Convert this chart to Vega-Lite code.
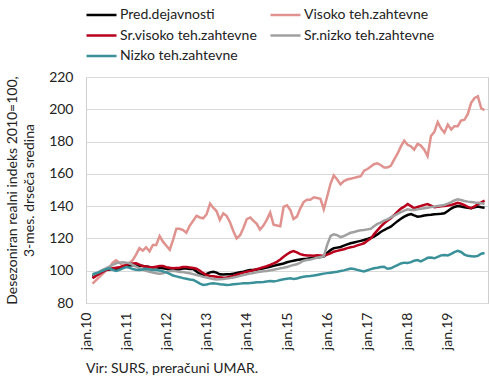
{
  "$schema": "https://vega.github.io/schema/vega-lite/v6.json",
  "width": 402,
  "height": 226,
  "autosize": "none",
  "padding": {"left": 86, "top": 77, "right": 2, "bottom": 78},
  "config": {
    "font": "Lato",
    "view": {"stroke": "#cfcfcf", "strokeWidth": 1}
  },
  "title": {"text": "Vir: SURS, preračuni UMAR.", "orient": "bottom", "anchor": "start", "frame": "group", "fontSize": 14, "fontWeight": "normal", "color": "#222222", "offset": 12, "font": "Lato"},
  "data": {"values": [
    {"t":"2010-03","a":96.3,"b":92,"c":95.3,"d":97.3,"e":97.8},
    {"t":"2010-04","a":97.5,"b":94,"c":96.8,"d":98.3,"e":98.4},
    {"t":"2010-05","a":98.5,"b":96,"c":98,"d":99.5,"e":99},
    {"t":"2010-06","a":99.5,"b":98,"c":99.3,"d":100.5,"e":100},
    {"t":"2010-07","a":100.4,"b":100,"c":100.4,"d":101.5,"e":100.8},
    {"t":"2010-08","a":100.8,"b":102,"c":101,"d":102.5,"e":101.5},
    {"t":"2010-09","a":101.2,"b":105,"c":101.5,"d":103.6,"e":100.5},
    {"t":"2010-10","a":101.2,"b":106.5,"c":101.8,"d":104.6,"e":99.8},
    {"t":"2010-11","a":101.5,"b":105,"c":102.1,"d":105,"e":100.5},
    {"t":"2010-12","a":102.2,"b":103,"c":102.8,"d":105.2,"e":101.5},
    {"t":"2011-01","a":102.8,"b":104,"c":103.5,"d":105,"e":102.3},
    {"t":"2011-02","a":103.3,"b":105,"c":104.2,"d":104.6,"e":101.8},
    {"t":"2011-03","a":103.5,"b":106.5,"c":104.5,"d":103.6,"e":101},
    {"t":"2011-04","a":103.2,"b":110,"c":104.6,"d":102.5,"e":100.6},
    {"t":"2011-05","a":103,"b":114,"c":103.8,"d":101.5,"e":100.4},
    {"t":"2011-06","a":102.9,"b":112.5,"c":102.9,"d":100.7,"e":100.8},
    {"t":"2011-07","a":102.6,"b":114.5,"c":102.6,"d":100,"e":101.2},
    {"t":"2011-08","a":102.3,"b":112,"c":102.3,"d":99.4,"e":100.8},
    {"t":"2011-09","a":102.1,"b":116,"c":102.1,"d":98.8,"e":100.5},
    {"t":"2011-10","a":102.2,"b":116,"c":102.5,"d":98.4,"e":100.4},
    {"t":"2011-11","a":101.8,"b":121.5,"c":102.9,"d":98.2,"e":100.2},
    {"t":"2011-12","a":101.5,"b":118,"c":102.9,"d":98.4,"e":99.6},
    {"t":"2012-01","a":101.2,"b":115.5,"c":102.2,"d":99.2,"e":99},
    {"t":"2012-02","a":100.8,"b":113,"c":101.8,"d":99.8,"e":98},
    {"t":"2012-03","a":100.4,"b":119,"c":101.5,"d":100,"e":97},
    {"t":"2012-04","a":100.7,"b":126,"c":101.7,"d":99.6,"e":96.5},
    {"t":"2012-05","a":100.9,"b":126,"c":101.9,"d":99.2,"e":96},
    {"t":"2012-06","a":101.4,"b":125.2,"c":102.3,"d":99.2,"e":95.4},
    {"t":"2012-07","a":101.3,"b":123.5,"c":102.3,"d":98.8,"e":95},
    {"t":"2012-08","a":101,"b":128,"c":102,"d":98.4,"e":94.6},
    {"t":"2012-09","a":101,"b":131,"c":101.7,"d":97.9,"e":94.3},
    {"t":"2012-10","a":99.5,"b":134,"c":101.2,"d":97.4,"e":93.2},
    {"t":"2012-11","a":98,"b":133,"c":100,"d":96.9,"e":92},
    {"t":"2012-12","a":97.3,"b":132.5,"c":98.5,"d":96.3,"e":91.2},
    {"t":"2013-01","a":98,"b":135,"c":97.3,"d":95.8,"e":91.5},
    {"t":"2013-02","a":99,"b":141.5,"c":96.7,"d":95.3,"e":92},
    {"t":"2013-03","a":99.4,"b":139,"c":96.5,"d":94.9,"e":92.2},
    {"t":"2013-04","a":98.8,"b":137,"c":96.3,"d":94.6,"e":92},
    {"t":"2013-05","a":97.8,"b":131.5,"c":96,"d":94.7,"e":91.6},
    {"t":"2013-06","a":97.6,"b":135.5,"c":95.7,"d":94.8,"e":91.4},
    {"t":"2013-07","a":97.8,"b":134,"c":95.8,"d":95.1,"e":91.2},
    {"t":"2013-08","a":97.8,"b":130,"c":96.3,"d":95.4,"e":91.3},
    {"t":"2013-09","a":98.2,"b":124.5,"c":96.8,"d":95.8,"e":91.6},
    {"t":"2013-10","a":98.6,"b":120,"c":97.5,"d":96.2,"e":91.8},
    {"t":"2013-11","a":99,"b":122,"c":98.2,"d":96.8,"e":92},
    {"t":"2013-12","a":99.4,"b":126.5,"c":98.8,"d":97.3,"e":92.2},
    {"t":"2014-01","a":100,"b":132,"c":99.4,"d":97.8,"e":92.3},
    {"t":"2014-02","a":100.4,"b":133,"c":99.8,"d":98.2,"e":92.4},
    {"t":"2014-03","a":100.5,"b":131,"c":100.3,"d":98.6,"e":92.6},
    {"t":"2014-04","a":100.8,"b":129,"c":100.9,"d":99,"e":92.8},
    {"t":"2014-05","a":101,"b":125.5,"c":101.5,"d":99.3,"e":92.9},
    {"t":"2014-06","a":101.5,"b":128,"c":102.2,"d":99.6,"e":93},
    {"t":"2014-07","a":102,"b":131.5,"c":102.8,"d":99.8,"e":93.3},
    {"t":"2014-08","a":102.5,"b":136,"c":103.6,"d":100.2,"e":93.6},
    {"t":"2014-09","a":103,"b":128.5,"c":104.5,"d":100.6,"e":93.4},
    {"t":"2014-10","a":103.5,"b":128,"c":105.5,"d":101,"e":93.7},
    {"t":"2014-11","a":104,"b":127.5,"c":107,"d":101.5,"e":94.2},
    {"t":"2014-12","a":104.5,"b":139.5,"c":108.7,"d":101.8,"e":94.7},
    {"t":"2015-01","a":105.2,"b":140.5,"c":110.2,"d":102.3,"e":95},
    {"t":"2015-02","a":105.8,"b":137.5,"c":111.5,"d":103,"e":95.3},
    {"t":"2015-03","a":106.2,"b":132,"c":112.2,"d":103.5,"e":94.9},
    {"t":"2015-04","a":106.6,"b":133.5,"c":111.3,"d":104,"e":95.2},
    {"t":"2015-05","a":106.9,"b":138.5,"c":110.3,"d":105,"e":95.8},
    {"t":"2015-06","a":107.2,"b":142.5,"c":109.7,"d":106.2,"e":96.2},
    {"t":"2015-07","a":107.4,"b":144,"c":109.5,"d":106.6,"e":96.5},
    {"t":"2015-08","a":107.7,"b":144,"c":109.4,"d":107,"e":96.7},
    {"t":"2015-09","a":108,"b":145.5,"c":109.3,"d":107.5,"e":97},
    {"t":"2015-10","a":108.2,"b":145,"c":109.6,"d":108,"e":97.4},
    {"t":"2015-11","a":108.5,"b":144.5,"c":109.5,"d":108.5,"e":97.8},
    {"t":"2015-12","a":108.7,"b":138,"c":109.1,"d":108.9,"e":98.2},
    {"t":"2016-01","a":111,"b":146,"c":110,"d":116,"e":98.5},
    {"t":"2016-02","a":112.8,"b":154,"c":110.8,"d":121.5,"e":98.8},
    {"t":"2016-03","a":113.9,"b":159,"c":111.8,"d":122.5,"e":99.1},
    {"t":"2016-04","a":114.3,"b":156.5,"c":112.3,"d":122,"e":99.4},
    {"t":"2016-05","a":114.7,"b":153.5,"c":112.8,"d":120.8,"e":99.8},
    {"t":"2016-06","a":115.5,"b":155.5,"c":113.3,"d":121.5,"e":100.2},
    {"t":"2016-07","a":116.3,"b":156.5,"c":114,"d":122.5,"e":100.8},
    {"t":"2016-08","a":117,"b":157,"c":114.5,"d":123.5,"e":101.3},
    {"t":"2016-09","a":117.5,"b":157.5,"c":114.9,"d":124,"e":101},
    {"t":"2016-10","a":118,"b":158,"c":115.7,"d":124.6,"e":100.5},
    {"t":"2016-11","a":118.5,"b":158.5,"c":116.3,"d":125,"e":100},
    {"t":"2016-12","a":119,"b":162,"c":117,"d":125.2,"e":99.6},
    {"t":"2017-01","a":119.7,"b":163,"c":118.5,"d":125.6,"e":100.3},
    {"t":"2017-02","a":120.4,"b":164.5,"c":120,"d":126,"e":101},
    {"t":"2017-03","a":121.1,"b":166,"c":122.5,"d":127.5,"e":101.5},
    {"t":"2017-04","a":122.5,"b":166.5,"c":125,"d":129,"e":101.8},
    {"t":"2017-05","a":124,"b":165.5,"c":127.3,"d":129.8,"e":102.3},
    {"t":"2017-06","a":125.2,"b":164,"c":129.4,"d":131,"e":102.5},
    {"t":"2017-07","a":126.3,"b":164,"c":131,"d":131.8,"e":101.2},
    {"t":"2017-08","a":127.3,"b":165,"c":132.5,"d":133,"e":101.5},
    {"t":"2017-09","a":129,"b":169,"c":134.5,"d":134.2,"e":102.5},
    {"t":"2017-10","a":130.7,"b":172.5,"c":136.6,"d":135.2,"e":103.5},
    {"t":"2017-11","a":132.2,"b":177,"c":138.5,"d":136.3,"e":104.5},
    {"t":"2017-12","a":133.5,"b":180.5,"c":139.7,"d":137.2,"e":105},
    {"t":"2018-01","a":134.5,"b":178,"c":141.3,"d":138,"e":104.8},
    {"t":"2018-02","a":135.1,"b":177,"c":140,"d":137.6,"e":105.3},
    {"t":"2018-03","a":134.3,"b":175,"c":138.7,"d":137.6,"e":106.2},
    {"t":"2018-04","a":133.5,"b":178.5,"c":139.5,"d":138,"e":106.6},
    {"t":"2018-05","a":133.8,"b":177.5,"c":140.1,"d":138.4,"e":105.8},
    {"t":"2018-06","a":134.2,"b":175,"c":140.8,"d":138.7,"e":106.8},
    {"t":"2018-07","a":134.5,"b":171,"c":141.3,"d":139,"e":108},
    {"t":"2018-08","a":134.7,"b":183.5,"c":140.3,"d":139.4,"e":108.2},
    {"t":"2018-09","a":135,"b":186,"c":139.3,"d":139.7,"e":107.7},
    {"t":"2018-10","a":135.1,"b":192,"c":139.6,"d":140.1,"e":108.6},
    {"t":"2018-11","a":135.3,"b":188,"c":139.9,"d":140.4,"e":109.5},
    {"t":"2018-12","a":135.6,"b":185.5,"c":140.1,"d":140.7,"e":109.7},
    {"t":"2019-01","a":137,"b":190.5,"c":140.4,"d":141.5,"e":109.5},
    {"t":"2019-02","a":138.5,"b":187.5,"c":140.7,"d":142.5,"e":110.4},
    {"t":"2019-03","a":139.5,"b":189.5,"c":141.3,"d":143.5,"e":111.5},
    {"t":"2019-04","a":140.1,"b":189.5,"c":142.1,"d":144.2,"e":112.3},
    {"t":"2019-05","a":139.8,"b":193,"c":141.5,"d":143.8,"e":111.6},
    {"t":"2019-06","a":139.3,"b":193.5,"c":140.7,"d":143.2,"e":110},
    {"t":"2019-07","a":139,"b":197,"c":139.5,"d":142.8,"e":109.2},
    {"t":"2019-08","a":138.7,"b":204,"c":138.7,"d":142.5,"e":109},
    {"t":"2019-09","a":139.3,"b":207,"c":139.8,"d":142.2,"e":108.8},
    {"t":"2019-10","a":139.7,"b":208,"c":141.3,"d":142.1,"e":109.2},
    {"t":"2019-11","a":139.3,"b":200.5,"c":142.3,"d":141.8,"e":110.5},
    {"t":"2019-12","a":139,"b":199.5,"c":143.4,"d":141.3,"e":111}
  ]},
  "transform": [{"fold": ["a", "b", "c", "d", "e"], "as": ["s", "v"]}],
  "mark": {"type": "line", "strokeWidth": 2.5, "interpolate": "linear"},
  "encoding": {
    "x": {
      "field": "t", "type": "temporal",
      "scale": {"type": "utc", "domain": [{"year": 2010, "month": 1, "date": 1, "utc": true}, {"year": 2020, "month": 1, "date": 1, "utc": true}]},
      "axis": {
        "title": null, "grid": false, "domain": false, "ticks": false,
        "values": [
          {"year": 2010, "month": 1, "date": 1, "utc": true},
          {"year": 2011, "month": 1, "date": 1, "utc": true},
          {"year": 2012, "month": 1, "date": 1, "utc": true},
          {"year": 2013, "month": 1, "date": 1, "utc": true},
          {"year": 2014, "month": 1, "date": 1, "utc": true},
          {"year": 2015, "month": 1, "date": 1, "utc": true},
          {"year": 2016, "month": 1, "date": 1, "utc": true},
          {"year": 2017, "month": 1, "date": 1, "utc": true},
          {"year": 2018, "month": 1, "date": 1, "utc": true},
          {"year": 2019, "month": 1, "date": 1, "utc": true}
        ],
        "labelExpr": "'jan.' + utcFormat(datum.value, '%y')",
        "labelAngle": -90, "labelFontSize": 14, "labelColor": "#222222", "labelPadding": 9, "labelFont": "Lato"
      }
    },
    "y": {
      "field": "v", "type": "quantitative",
      "scale": {"domain": [80, 220], "nice": false, "zero": false},
      "axis": {
        "title": ["Desezoniran realni indeks 2010=100,", "3-mes. drseča sredina"],
        "titleFontWeight": "normal", "titleFontSize": 14, "titleColor": "#222222", "titlePadding": 12, "titleFont": "Lato", "titleLineHeight": 17,
        "values": [80, 100, 120, 140, 160, 180, 200, 220],
        "grid": true, "gridColor": "#d9d9d9", "domain": false, "ticks": false,
        "labelFontSize": 14, "labelColor": "#222222", "labelPadding": 13, "labelFont": "Lato"
      }
    },
    "color": {
      "field": "s", "type": "nominal",
      "scale": {"domain": ["a", "c", "e", "b", "d"], "range": ["#000000", "#b8001c", "#3a9199", "#e0928f", "#a0a0a0"]},
      "legend": {
        "title": null, "orient": "none", "legendX": -1, "legendY": -71, "columns": 2,
        "symbolType": "stroke", "symbolSize": 900, "symbolStrokeWidth": 2.5,
        "labelFontSize": 14, "labelColor": "#222222", "labelOffset": 2, "labelFont": "Lato",
        "clipHeight": 18, "rowPadding": 2.5, "columnPadding": 12, "labelLimit": 300,
        "labelExpr": "datum.label == 'a' ? 'Pred.dejavnosti' : datum.label == 'b' ? 'Visoko teh.zahtevne' : datum.label == 'c' ? 'Sr.visoko teh.zahtevne' : datum.label == 'd' ? 'Sr.nizko teh.zahtevne' : 'Nizko teh.zahtevne'"
      }
    }
  }
}
